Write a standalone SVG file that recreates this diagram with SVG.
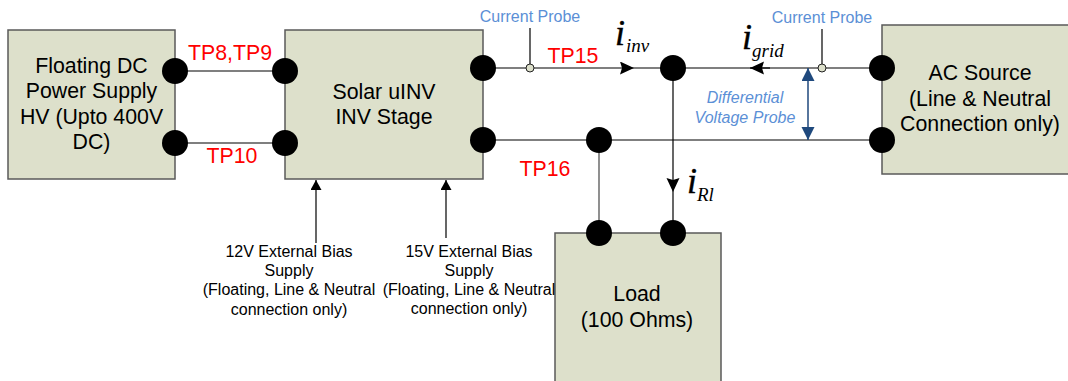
<svg xmlns="http://www.w3.org/2000/svg" width="1068" height="381" viewBox="0 0 1068 381">
<style>
text{font-family:"Liberation Sans",Arial,sans-serif;text-anchor:middle}
.box{fill:#dde0cb;stroke:#5a5a5a;stroke-width:1.5}
.t{font-size:21.3px;fill:#000}
.r{font-size:21.3px;fill:#ff0000}
.b{font-size:16px;fill:#5b8fd6}
.s{font-size:16px;fill:#000}
.w{fill:none;stroke:#555;stroke-width:1.3}
.k{fill:none;stroke:#000;stroke-width:1.2}
.d{fill:#000}
.p{fill:#dde0cb;stroke:#222;stroke-width:1}
.i{font-family:"Liberation Serif","Times New Roman",serif;font-style:italic;fill:#000;text-anchor:start}
.m{font-size:36px;stroke:#000;stroke-width:.4}
.u{font-size:19px}
</style>
<defs>
<marker id="ah" markerUnits="userSpaceOnUse" markerWidth="15" markerHeight="14" refX="14" refY="6.5" orient="auto"><path d="M0,0L14,6.5L0,13L2,6.5Z" fill="#000"/></marker>
<marker id="up" markerUnits="userSpaceOnUse" markerWidth="12" markerHeight="12" refX="10" refY="5.5" orient="auto"><path d="M0,0L10,5.5L0,11Z" fill="#000"/></marker>
<marker id="bl" markerUnits="userSpaceOnUse" markerWidth="14" markerHeight="14" refX="13" refY="6.5" orient="auto-start-reverse"><path d="M0,0L13,6.5L0,13Z" fill="#1f497d"/></marker>
</defs>
<g id="connectors">
<path class="w" d="M175,71H285M175,143H285M483,68H530M483,140H882M599,140V233"/>
<path class="k" d="M530,28V64"/>
<path class="k" marker-end="url(#ah)" d="M534,68H634"/>
<path class="k" d="M634,68H673"/>
<path class="k" d="M673,68H882"/>
<path class="k" marker-end="url(#ah)" d="M770,68H750"/>
<path class="k" d="M822,29V64"/>
<path class="k" marker-end="url(#ah)" d="M673,68V192"/>
<path class="k" d="M673,192V233"/>
<path fill="none" stroke="#1f497d" stroke-width="1.5" marker-start="url(#bl)" marker-end="url(#bl)" d="M808,68V140"/>
<path class="k" marker-end="url(#up)" d="M316,243V180"/>
<path class="k" marker-end="url(#up)" d="M446,238V180"/>
</g>
<g id="dc-supply">
<rect class="box" x="8" y="30" width="167" height="149"/>
<text class="t" x="91.5" y="73">Floating DC</text>
<text class="t" x="91.5" y="98">Power Supply</text>
<text class="t" x="91.5" y="124">HV (Upto 400V</text>
<text class="t" x="91.5" y="149">DC)</text>
</g>
<g id="inv-stage">
<rect class="box" x="285" y="30" width="198" height="149"/>
<text class="t" x="384" y="99">Solar uINV</text>
<text class="t" x="384" y="124">INV Stage</text>
</g>
<g id="ac-source">
<rect class="box" x="882" y="25" width="187" height="149"/>
<text class="t" x="980" y="80">AC Source</text>
<text class="t" x="980" y="106">(Line &amp; Neutral</text>
<text class="t" x="980" y="131">Connection only)</text>
</g>
<g id="load">
<rect class="box" x="555" y="233" width="166" height="149"/>
<text class="t" x="637" y="301">Load</text>
<text class="t" x="637" y="327">(100 Ohms)</text>
</g>
<g id="terminals">
<circle class="d" cx="175" cy="71" r="13"/><circle class="d" cx="175" cy="143" r="13"/>
<circle class="d" cx="285" cy="71" r="13"/><circle class="d" cx="285" cy="143" r="13"/>
<circle class="d" cx="483" cy="68" r="13"/><circle class="d" cx="483" cy="140" r="13"/>
<circle class="d" cx="673" cy="68" r="13"/><circle class="d" cx="599" cy="140" r="13"/>
<circle class="d" cx="882" cy="68" r="13"/><circle class="d" cx="882" cy="140" r="13"/>
<circle class="d" cx="599" cy="233" r="13"/><circle class="d" cx="673" cy="233" r="13"/>
<circle class="p" cx="530" cy="68" r="4"/><circle class="p" cx="822" cy="68" r="4"/>
</g>
<g id="labels">
<text class="r" x="230" y="60">TP8,TP9</text>
<text class="r" x="232" y="163">TP10</text>
<text class="r" x="573" y="63">TP15</text>
<text class="r" x="545" y="176">TP16</text>
<text class="b" x="530" y="22">Current Probe</text>
<text class="b" x="822" y="23">Current Probe</text>
<text class="b" x="745" y="103" style="font-style:italic">Differential</text>
<text class="b" x="745" y="123" style="font-style:italic">Voltage Probe</text>
<text class="s" x="289" y="257">12V External Bias</text>
<text class="s" x="289" y="276">Supply</text>
<text class="s" x="289" y="295">(Floating, Line &amp; Neutral</text>
<text class="s" x="289" y="315">connection only)</text>
<text class="s" x="469" y="257">15V External Bias</text>
<text class="s" x="469" y="276">Supply</text>
<text class="s" x="469" y="295">(Floating, Line &amp; Neutral</text>
<text class="s" x="469" y="314">connection only)</text>
<text class="i m" x="615" y="45">i</text><text class="i u" x="626" y="52">inv</text>
<text class="i m" x="742" y="49">i</text><text class="i u" x="752" y="57">grid</text>
<text class="i m" x="687" y="193">i</text><text class="i u" x="697" y="201">Rl</text>
</g>
</svg>
